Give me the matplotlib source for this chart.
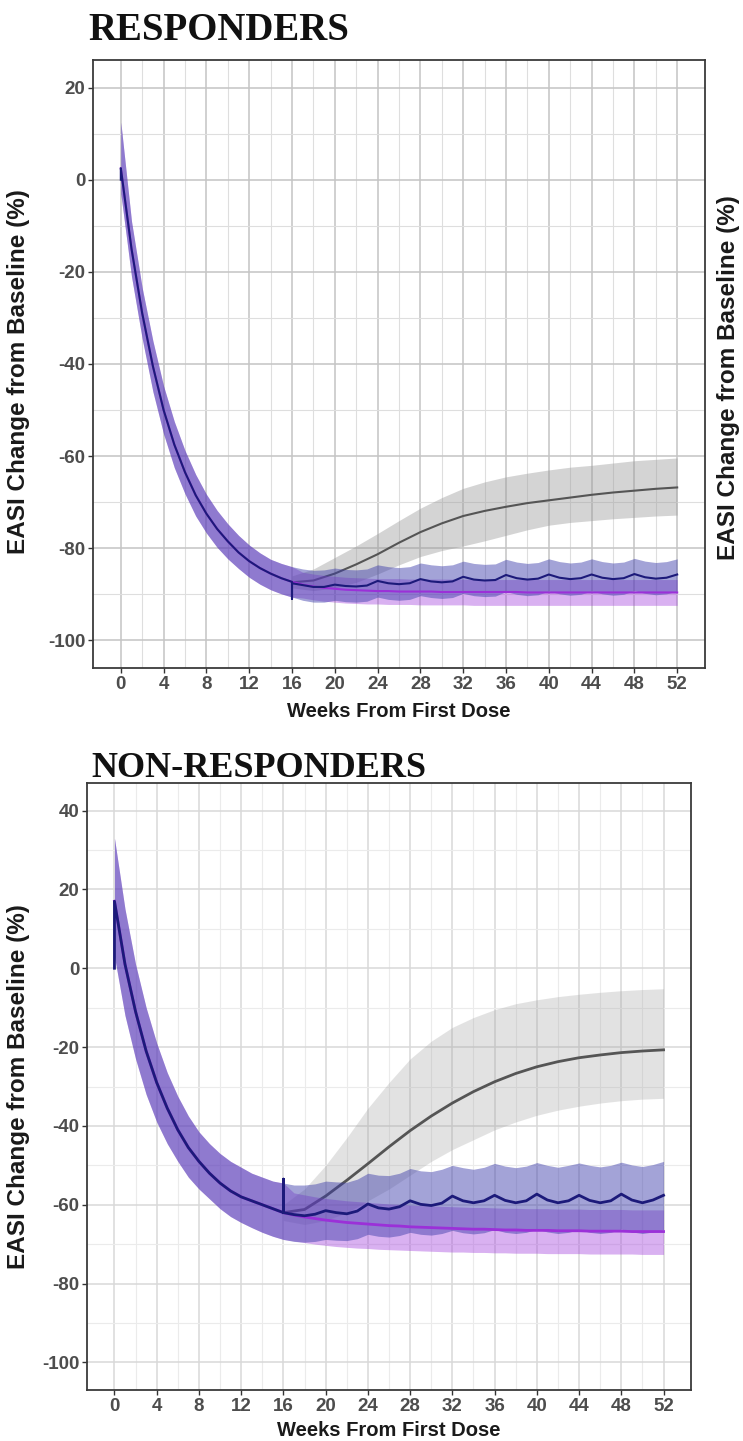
import matplotlib
matplotlib.use("Agg")
import matplotlib.pyplot as plt
import numpy as np

plt.rcParams['axes.unicode_minus'] = False

# ---------------- RESPONDERS ----------------
# navy arm (continued dosing) - week 0 and week 16 appear twice (vertical blips)
r_navy_weeks = [0, 0] + list(range(1, 17)) + [16, 16] + list(range(17, 53))
r_navy = [0, 2.5, -15, -29, -40.5, -50, -57.5, -63.5, -68.5, -72.5, -75.8, -78.5, -80.9, -82.8, -84.3, -85.5, -86.5,
          -87.3, -91.0, -87.6,
          -88.0, -88.4, -88.4, -87.9, -88.2, -88.3, -88.1, -87.1, -87.6, -87.8, -87.6, -86.7, -87.2, -87.4, -87.2,
          -86.2, -86.8, -87.0, -86.9, -85.8, -86.5, -86.8, -86.6, -85.7, -86.4, -86.7, -86.5, -85.7, -86.4, -86.7,
          -86.5, -85.6, -86.3, -86.6, -86.4, -85.7]
band_weeks = list(range(0, 53))
r_navy_hi = [12.5, -9, -23.5, -35, -44.8, -52.5, -58.8, -64, -68.3, -71.8, -74.7, -77.2, -79.3, -81, -82.4, -83.3, -84.0,
             -84.5, -84.8, -84.7, -84.3, -84.6, -84.7, -84.5, -83.6, -84.0, -84.2, -84.0, -83.2, -83.6, -83.8, -83.6,
             -82.8, -83.3, -83.5, -83.4, -82.4, -83.0, -83.3, -83.1, -82.3, -82.9, -83.2, -83.0, -82.3, -82.9, -83.2,
             -83.0, -82.2, -82.8, -83.1, -82.9, -82.3]
r_navy_lo = [-3, -21, -34.5, -46, -55.2, -62.5, -68.2, -73, -76.7, -79.8, -82.3, -84.4, -86.3, -87.8, -89, -89.9, -90.6,
             -91.3, -91.7, -91.7, -91.3, -91.6, -91.7, -91.5, -90.6, -91.1, -91.3, -91.1, -90.3, -90.7, -90.9, -90.7,
             -89.8, -90.3, -90.5, -90.4, -89.4, -90.0, -90.3, -90.1, -89.3, -89.9, -90.2, -90.0, -89.3, -89.9, -90.2,
             -90.0, -89.2, -89.8, -90.1, -89.9, -89.3]

# purple arm - identical to navy until week 16
r_purple_weeks = list(range(0, 53))
r_purple = [2.5, -15, -29, -40.5, -50, -57.5, -63.5, -68.5, -72.5, -75.8, -78.5, -80.9, -82.8, -84.3, -85.5, -86.5,
            -87.3,
            -87.9, -88.3, -88.6, -88.8, -89.0, -89.1, -89.2, -89.3, -89.3, -89.4, -89.4, -89.4, -89.4, -89.5, -89.5,
            -89.5, -89.5, -89.5, -89.5, -89.5, -89.5, -89.6, -89.6, -89.6, -89.6, -89.6, -89.6, -89.6, -89.6, -89.6,
            -89.6, -89.6, -89.6, -89.6, -89.6, -89.6]
r_purple_hi = r_navy_hi[:17] + [-85.2, -85.6, -85.9, -86.1, -86.3, -86.4, -86.5, -86.6, -86.6, -86.6, -86.7, -86.7,
                                -86.7, -86.7, -86.7, -86.7, -86.8, -86.8, -86.8, -86.8, -86.8, -86.8, -86.8, -86.8,
                                -86.8, -86.8, -86.8, -86.8, -86.8, -86.8, -86.8, -86.8, -86.8, -86.8, -86.8, -86.8]
r_purple_lo = r_navy_lo[:17] + [-90.8, -91.2, -91.5, -91.7, -91.9, -92.0, -92.1, -92.1, -92.2, -92.2, -92.2, -92.3,
                                -92.3, -92.3, -92.3, -92.3, -92.4, -92.4, -92.4, -92.4, -92.4, -92.4, -92.4, -92.4,
                                -92.4, -92.4, -92.4, -92.4, -92.4, -92.4, -92.4, -92.4, -92.4, -92.4, -92.4, -92.4]

# gray arm (treatment withdrawn at week 16)
gray_weeks = list(range(16, 53, 2))
r_gray = [-87.4, -87.0, -85.5, -83.5, -81.3, -78.8, -76.5, -74.6, -73.0, -71.9, -71.0, -70.2, -69.6, -69.0, -68.4,
          -67.9, -67.5, -67.1, -66.8]
r_gray_hi = [-86.0, -84.5, -82.0, -79.5, -76.8, -74.0, -71.3, -69.0, -67.0, -65.6, -64.5, -63.7, -63.0, -62.4, -62.0,
             -61.5, -61.0, -60.7, -60.4]
r_gray_lo = [-88.6, -89.2, -88.6, -87.4, -85.6, -83.6, -81.8, -80.5, -79.5, -78.4, -77.2, -76.0, -75.0, -74.4, -74.0,
             -73.6, -73.3, -73.0, -72.8]

# ---------------- NON-RESPONDERS ----------------
n_navy_weeks = [0, 0] + list(range(1, 17)) + [16, 16] + list(range(17, 53))
n_navy = [0, 17, 1, -11, -21, -29, -35.5, -41, -45.5, -49, -52, -54.5, -56.5, -58, -59.0, -60.0, -61.0, -62.0,
          -53.5, -62.0,
          -62.5, -62.8, -62.4, -61.5, -62.0, -62.3, -61.6, -59.8, -60.8, -61.1, -60.5, -59.0, -59.9, -60.2, -59.6,
          -57.8, -59.0, -59.5, -59.0, -57.6, -58.9, -59.5, -59.0, -57.3, -58.8, -59.5, -59.0, -57.6, -58.9, -59.5,
          -59.0, -57.3, -58.8, -59.5, -58.8, -57.6]
n_navy_hi = [33, 15, 1, -10, -19, -26.5, -32.5, -37.5, -41.5, -44.5, -47, -49, -50.5, -52, -53, -54, -54.5,
             -55, -55, -54.7, -54, -54.2, -54.3, -53.5, -52, -52.5, -52.6, -52, -50.8, -51.4, -51.6, -51, -50,
             -50.6, -51, -50.5, -49.5, -50.2, -50.6, -50.2, -49.3, -50.0, -50.5, -50.0, -49.4, -50.0, -50.4, -50.0,
             -49.2, -49.9, -50.3, -49.8, -49.0]
n_navy_lo = [3, -12, -23, -32, -39, -44.5, -49, -53, -56, -58.5, -61, -63, -64.5, -65.8, -67, -68, -68.8,
             -69.3, -69.5, -69.3, -68.8, -69, -69.1, -68.6, -67.5, -68, -68.2, -67.8, -67, -67.5, -67.7, -67.3, -66.5,
             -67.1, -67.4, -67.1, -66.3, -67, -67.3, -67.0, -66.2, -66.9, -67.3, -67.0, -66.3, -67.0, -67.3, -67.0,
             -66.2, -66.9, -67.3, -66.9, -66.3]

n_purple_weeks = list(range(0, 53))
n_purple = [17, 1, -11, -21, -29, -35.5, -41, -45.5, -49, -52, -54.5, -56.5, -58, -59.0, -60.0, -61.0, -62.0,
            -62.6, -63.1, -63.5, -63.9, -64.2, -64.5, -64.7, -64.9, -65.1, -65.3, -65.4, -65.6, -65.7, -65.8, -65.9,
            -66.0, -66.1, -66.2, -66.2, -66.3, -66.4, -66.4, -66.5, -66.5, -66.5, -66.6, -66.6, -66.6, -66.7, -66.7,
            -66.7, -66.7, -66.8, -66.8, -66.8, -66.8]
n_purple_hi = n_navy_hi[:17] + [-57, -57.5, -58, -58.4, -58.7, -59, -59.2, -59.4, -59.6, -59.8, -59.9, -60.1, -60.2,
                                -60.3, -60.4, -60.5, -60.6, -60.7, -60.7, -60.8, -60.9, -60.9, -61, -61, -61, -61.1,
                                -61.1, -61.1, -61.2, -61.2, -61.2, -61.2, -61.3, -61.3, -61.3, -61.3]
n_purple_lo = n_navy_lo[:17] + [-69.2, -69.6, -70.0, -70.3, -70.6, -70.8, -71.0, -71.1, -71.3, -71.4, -71.5, -71.6,
                                -71.7, -71.8, -71.9, -72.0, -72.0, -72.1, -72.1, -72.2, -72.2, -72.3, -72.3, -72.3,
                                -72.4, -72.4, -72.4, -72.4, -72.5, -72.5, -72.5, -72.5, -72.5, -72.6, -72.6, -72.6]

n_gray = [-62, -61.2, -57.8, -53.8, -49.6, -45.3, -41.2, -37.5, -34.2, -31.3, -28.8, -26.7, -25.0, -23.7, -22.7,
          -22.0, -21.4, -21.0, -20.7]
n_gray_hi = [-60, -56, -50, -43, -35.5, -29, -23, -18.5, -15, -12.5, -10.5, -9, -8, -7.2, -6.6, -6.1, -5.7, -5.4,
             -5.2]
n_gray_lo = [-64, -65, -64, -62, -59, -56, -52.5, -49, -46, -43.5, -41, -39, -37.3, -36, -35, -34.2, -33.6, -33.2,
             -33]

x_ticks = list(range(0, 53, 4))
r_yticks = [20, 0, -20, -40, -60, -80, -100]
n_yticks = [40, 20, 0, -20, -40, -60, -80, -100]

NAVY = '#1c1a7a'
NAVY_FILL = '#3c3caa'
PURPLE = '#9b30d8'
PURPLE_FILL = '#a03cdc'
GRAY = '#555555'
GRAY_FILL = '#9a9a9a'
SANS = ['Liberation Sans', 'DejaVu Sans']
SERIF = ['Liberation Serif', 'DejaVu Serif']


def draw_panel(ax, ylim, yticks, navy, purple, gray, lw, grid_major, grid_minor, gray_alpha):
    ax.set_facecolor('white')
    ax.set_xlim(-2.6, 54.6)
    ax.set_ylim(*ylim)
    ax.set_xticks(x_ticks)
    ax.set_yticks(yticks)
    ax.set_xticks(np.arange(2, 53, 4), minor=True)
    ax.set_yticks(np.array(yticks[:-1]) - 10, minor=True)
    ax.grid(which='major', color=grid_major, lw=1.1, zorder=0)
    ax.grid(which='minor', color=grid_minor, lw=0.8, zorder=0)
    ax.set_axisbelow(True)
    ax.tick_params(which='minor', length=0)
    ax.tick_params(which='major', direction='out', length=3.5, width=1, color='#333333',
                   labelsize=13.5, labelcolor='#4d4d4d', pad=2)
    for lab in ax.get_xticklabels() + ax.get_yticklabels():
        lab.set_fontweight('bold')
        lab.set_family(SANS)
    for sp in ax.spines.values():
        sp.set_color('#3a3a3a')
        sp.set_linewidth(1.3)

    gw, gm, ghi, glo = gray
    pw, pm, phi, plo = purple
    nw, nm, nhi, nlo = navy
    ax.fill_between(gw, glo, ghi, color=GRAY_FILL, alpha=gray_alpha, lw=0, zorder=2)
    ax.plot(gw, gm, color=GRAY, lw=lw, zorder=3)
    ax.fill_between(band_weeks, plo, phi, color=PURPLE_FILL, alpha=0.4, lw=0, zorder=4)
    ax.fill_between(band_weeks, nlo, nhi, color=NAVY_FILL, alpha=0.47, lw=0, zorder=5)
    ax.plot(pw, pm, color=PURPLE, lw=lw, zorder=6)
    ax.plot(nw, nm, color=NAVY, lw=lw, zorder=7)

    ax.set_xlabel('Weeks From First Dose', fontsize=14.5, fontweight='bold', family=SANS, color='#1a1a1a')


fig = plt.figure(figsize=(7.43, 14.41), dpi=100)
fig.patch.set_facecolor('white')

# top panel
ax1 = fig.add_axes([93 / 743, 1 - 668 / 1441, 612 / 743, 608 / 1441])
draw_panel(ax1, (-106, 26), r_yticks,
           (r_navy_weeks, r_navy, r_navy_hi, r_navy_lo),
           (r_purple_weeks, r_purple, r_purple_hi, r_purple_lo),
           (gray_weeks, r_gray, r_gray_hi, r_gray_lo),
           1.5, '#c4c4c4', '#dedede', 0.42)
ax1.xaxis.set_label_coords(0.5, -0.056)

# bottom panel
ax2 = fig.add_axes([87 / 743, 1 - 1390 / 1441, 604 / 743, 607 / 1441])
draw_panel(ax2, (-107, 47), n_yticks,
           (n_navy_weeks, n_navy, n_navy_hi, n_navy_lo),
           (n_purple_weeks, n_purple, n_purple_hi, n_purple_lo),
           (gray_weeks, n_gray, n_gray_hi, n_gray_lo),
           2.0, '#d8d8d8', '#ebebeb', 0.28)
ax2.xaxis.set_label_coords(0.5, -0.051)

ylab = 'EASI Change from Baseline (%)'
fig.text(19 / 743, 1 - 372 / 1441, ylab, rotation=90, ha='center', va='center',
         fontsize=17.5, fontweight='bold', family=SANS, color='#1a1a1a')
fig.text(19 / 743, 1 - 1087 / 1441, ylab, rotation=90, ha='center', va='center',
         fontsize=17.5, fontweight='bold', family=SANS, color='#1a1a1a')
# label of the neighbouring panel, cut off at the right edge of the source figure
fig.text(728 / 743, 1 - 378 / 1441, ylab, rotation=90, ha='center', va='center',
         fontsize=17.5, fontweight='bold', family=SANS, color='#1a1a1a')

fig.text(88 / 743, 1 - 40 / 1441, 'RESPONDERS', ha='left', va='baseline',
         fontsize=28, fontweight='bold', family=SERIF, color='#111111')
fig.text(91 / 743, 1 - 777 / 1441, 'NON-RESPONDERS', ha='left', va='baseline',
         fontsize=26, fontweight='bold', family=SERIF, color='#111111')

fig.savefig('out.png', dpi=100, facecolor='white')
